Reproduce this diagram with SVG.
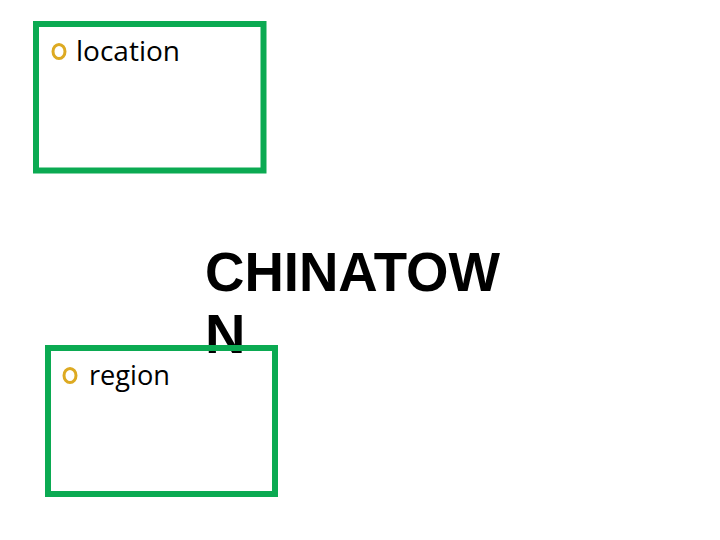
<svg xmlns="http://www.w3.org/2000/svg" width="720" height="540" viewBox="0 0 720 540">
<style>
.box{fill:none;stroke:#0BAA52;stroke-width:6}
.bul{fill:none;stroke:#DDAA22;stroke-width:3}
.lbl{font-family:"Open Sans","Noto Sans",sans-serif;font-size:27px;fill:#000}
.big{font-family:"Liberation Sans",Arial,sans-serif;font-weight:bold;font-size:56px;fill:#000}
</style>
<rect width="720" height="540" fill="#fff"/>
<g id="title">
<text class="big" x="205" y="291" textLength="295" lengthAdjust="spacingAndGlyphs">CHINATOW</text>
<text class="big" x="205" y="353">N</text>
</g>
<g id="location">
<rect class="box" x="36" y="24" width="227.5" height="146.5"/>
<ellipse class="bul" cx="59" cy="51.5" rx="6" ry="7"/>
<text class="lbl" x="76" y="61" textLength="104" lengthAdjust="spacingAndGlyphs">location</text>
</g>
<g id="region">
<rect class="box" x="48" y="348" width="227" height="146"/>
<ellipse class="bul" cx="70" cy="375.5" rx="6" ry="7"/>
<text class="lbl" x="89" y="385" textLength="81" lengthAdjust="spacingAndGlyphs">region</text>
</g>
</svg>
